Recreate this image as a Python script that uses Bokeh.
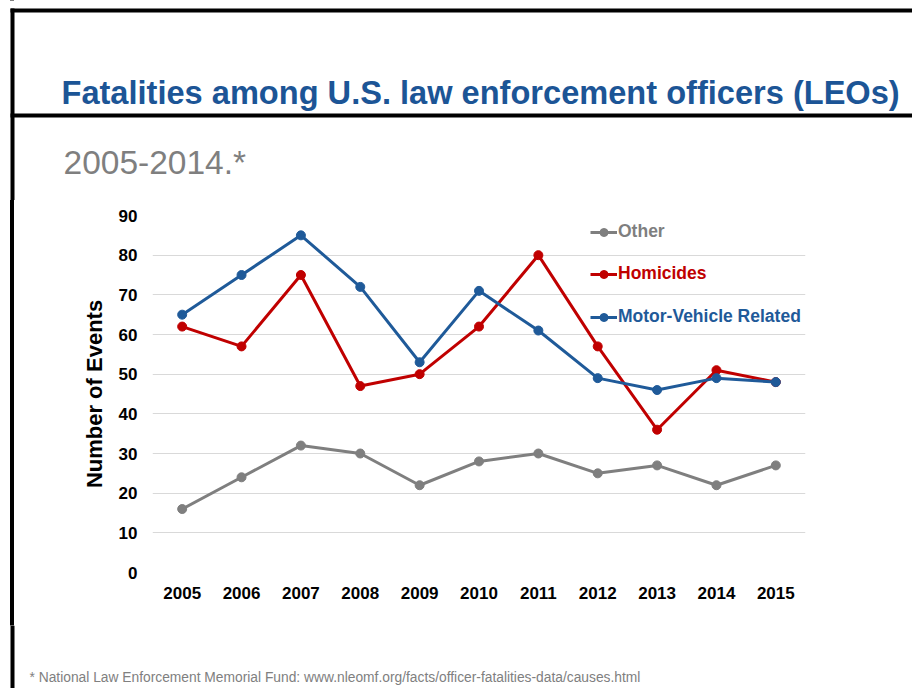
from bokeh.plotting import figure
from bokeh.layouts import column, row
from bokeh.models import (Range1d, FactorRange, FixedTicker, Label, Legend, LegendItem,
                          BoxAnnotation)
from bokeh.embed import file_html
from bokeh.resources import INLINE

years = ["2005", "2006", "2007", "2008", "2009", "2010", "2011", "2012", "2013", "2014", "2015"]
other = [16, 24, 32, 30, 22, 28, 30, 25, 27, 22, 27]
homicides = [62, 57, 75, 47, 50, 62, 80, 57, 36, 51, 48]
motor_vehicle = [65, 75, 85, 72, 53, 71, 61, 49, 46, 49, 48]
y_ticks = [0, 10, 20, 30, 40, 50, 60, 70, 80, 90]

series = [
    ("Other", other, "#7f7f7f"),
    ("Homicides", homicides, "#c00000"),
    ("Motor-Vehicle Related", motor_vehicle, "#1f5a99"),
]

title_text = "Fatalities among U.S. law enforcement officers (LEOs)"
subtitle_text = "2005-2014.*"
footnote_text = "* National Law Enforcement Memorial Fund: www.nleomf.org/facts/officer-fatalities-data/causes.html"

FONT = "Liberation Sans"
PAGE_W, PAGE_H = 912, 688
HEAD_H, CHART_H = 200, 425
FOOT_H = PAGE_H - HEAD_H - CHART_H
BAR_W = 14


def canvas_fig(w, h, fill="white", **kw):
    """A figure whose frame is its whole canvas, y measured downward in pixels."""
    f = figure(width=w, height=h, x_range=Range1d(0, w), y_range=Range1d(h, 0),
               x_axis_location=None, y_axis_location=None,
               output_backend="svg", toolbar_location=None, min_border=0, **kw)
    f.grid.visible = False
    f.outline_line_color = None
    f.background_fill_color = fill
    f.border_fill_color = fill
    return f


def black_box(f, l, r, t, b):
    f.add_layout(BoxAnnotation(left=l, right=r, top=t, bottom=b,
                               fill_color="black", fill_alpha=1, line_color=None))


# ---------------- header ----------------
head = canvas_fig(PAGE_W, HEAD_H)
black_box(head, 10, PAGE_W, 8, 12)
black_box(head, 10, PAGE_W, 113, 117)
black_box(head, 10, 14, 8, HEAD_H)
head.add_layout(Label(x=61, y=92, text=title_text, text_font=FONT,
                      text_font_style="bold", text_font_size="32.6px",
                      text_color="#1c5596", text_baseline="alphabetic"))
head.add_layout(Label(x=63, y=162, text=subtitle_text, text_font=FONT,
                      text_font_size="33.5px", text_color="#7f7f7f",
                      text_baseline="alphabetic"))

# ---------------- left bar beside chart (all black) ----------------
bar = canvas_fig(4, CHART_H, fill="black", margin=(0, 0, 0, 10))

# ---------------- chart ----------------
CW = PAGE_W - BAR_W
# frame in page coords: x 152..805, y 215..572
FL = 152 - BAR_W
FR = PAGE_W - 805
FT = 215 - HEAD_H
FB = HEAD_H + CHART_H - 572

p = figure(width=CW, height=CHART_H, x_range=FactorRange(*years), y_range=Range1d(0, 90),
           output_backend="svg", toolbar_location=None,
           min_border_left=FL, min_border_right=FR,
           min_border_top=FT, min_border_bottom=FB)
p.outline_line_color = None
p.background_fill_color = "white"
p.border_fill_color = "white"

p.xgrid.grid_line_color = None
p.ygrid.grid_line_color = "#d9d9d9"
p.ygrid.grid_line_width = 1
p.yaxis.ticker = FixedTicker(ticks=y_ticks)

for ax in (p.xaxis[0], p.yaxis[0]):
    ax.axis_line_color = None
    ax.major_tick_line_color = None
    ax.minor_tick_line_color = None
    ax.major_label_text_font = FONT
    ax.major_label_text_font_style = "bold"
    ax.major_label_text_font_size = "17px"
    ax.major_label_text_color = "black"

p.yaxis.major_label_standoff = 9
p.xaxis.major_label_standoff = 8
p.yaxis.axis_label = "Number of Events"
p.yaxis.axis_label_text_font = FONT
p.yaxis.axis_label_text_font_style = "bold"
p.yaxis.axis_label_text_font_size = "22px"
p.yaxis.axis_label_text_color = "black"
p.yaxis.axis_label_standoff = 9

legend_y = [330, 288, 245]
for (name, vals, color), ly in zip(series, legend_y):
    lr = p.line(years, vals, line_color=color, line_width=3)
    sr = p.scatter(years, vals, size=9, fill_color=color, line_color=color)
    leg = Legend(items=[LegendItem(label=name, renderers=[lr, sr])],
                 location=(438, ly), padding=0, margin=0, spacing=0,
                 border_line_color=None, background_fill_alpha=0,
                 glyph_width=27, glyph_height=20, label_height=20,
                 label_standoff=1,
                 label_text_font=FONT, label_text_font_style="bold",
                 label_text_font_size="17.5px", label_text_color=color)
    p.add_layout(leg, "center")

# ---------------- footer ----------------
foot = canvas_fig(PAGE_W, FOOT_H)
black_box(foot, 10, 14, 0, FOOT_H)
foot.add_layout(Label(x=29, y=677 - HEAD_H - CHART_H, text=footnote_text, text_font=FONT,
                      text_font_size="13.8px", text_color="#808080",
                      text_baseline="alphabetic"))

middle = row(bar, p, spacing=0,
             styles={"background": "linear-gradient(to right, #ffffff 0px, #ffffff 10px, "
                                   "#000000 10px, #000000 14px, #ffffff 14px)"})
layout = column(head, middle, foot, spacing=0,
                styles={"background": "linear-gradient(to right, #ffffff 0px, #ffffff 10px, "
                                      "#000000 10px, #000000 14px, #ffffff 14px)"})

open("out.html", "w").write(file_html(layout, INLINE))
